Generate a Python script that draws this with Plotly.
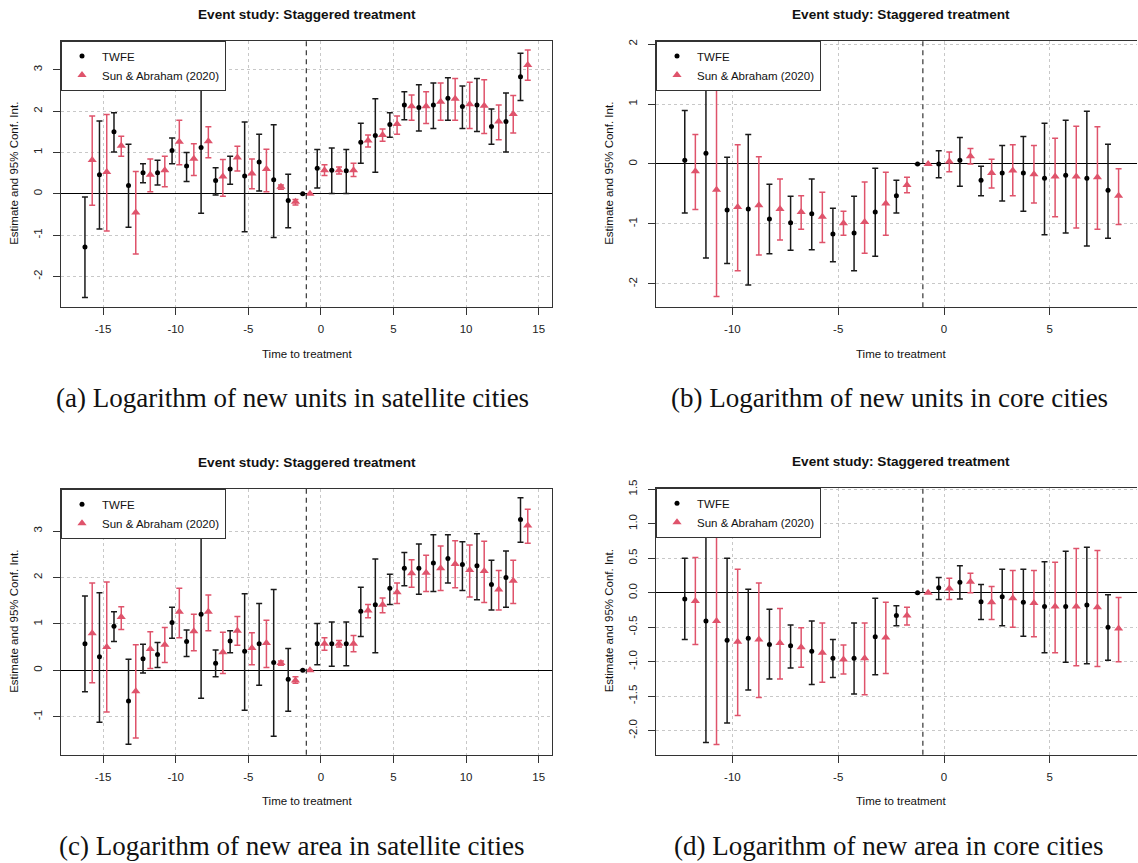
import plotly.graph_objects as go

# ---------------- data ----------------
t_sat = list(range(-16, 15))   # panels (a), (c)
t_core = list(range(-12, 9))   # panels (b), (d)

# (a) Logarithm of new units in satellite cities
a_twfe_est = [-1.29, 0.46, 1.50, 0.20, 0.51, 0.51, 1.05, 0.67, 1.12, 0.32, 0.60, 0.43, 0.77, 0.34, -0.16, 0.0,
              0.62, 0.57, 0.56, 1.25, 1.41, 1.68, 2.15, 2.09, 2.15, 2.31, 2.11, 2.15, 1.63, 1.75, 2.83]
a_twfe_lo = [-2.51, -0.85, 1.01, -0.81, 0.27, 0.21, 0.73, 0.30, -0.47, -0.03, 0.23, -0.92, 0.07, -1.06, -0.82, None,
             0.14, 0.01, 0.01, 0.74, 0.52, 1.37, 1.79, 1.52, 1.58, 1.78, 1.58, 1.51, 1.20, 1.01, 2.26]
a_twfe_hi = [-0.08, 1.76, 1.96, 1.20, 0.73, 0.81, 1.35, 1.00, 2.68, 0.63, 0.91, 1.74, 1.44, 1.67, 0.47, None,
             1.07, 1.11, 1.07, 1.71, 2.30, 1.96, 2.47, 2.64, 2.68, 2.81, 2.61, 2.79, 2.05, 2.44, 3.40]
a_sa_est = [0.82, 0.53, 1.16, -0.45, 0.46, 0.57, 1.26, 0.85, 1.27, 0.42, 0.88, 0.49, 0.60, 0.17, -0.19, 0.0,
            0.57, 0.57, 0.57, 1.29, 1.42, 1.69, 2.12, 2.12, 2.23, 2.30, 2.17, 2.13, 1.75, 1.93, 3.12]
a_sa_lo = [-0.28, -0.90, 0.91, -1.46, 0.05, 0.17, 0.70, 0.44, 0.87, -0.06, 0.55, 0.12, 0.05, 0.11, -0.27, None,
           0.44, 0.48, 0.42, 1.13, 1.27, 1.44, 1.78, 1.70, 1.78, 1.78, 1.58, 1.46, 1.31, 1.47, 2.75]
a_sa_hi = [1.88, 1.92, 1.39, 0.54, 0.84, 0.91, 1.78, 1.21, 1.62, 0.83, 1.15, 0.84, 1.08, 0.21, -0.14, None,
           0.70, 0.65, 0.74, 1.42, 1.57, 1.88, 2.39, 2.47, 2.68, 2.79, 2.70, 2.76, 2.15, 2.38, 3.48]

# (b) Logarithm of new units in core cities
b_twfe_est = [0.06, 0.18, -0.77, -0.75, -0.92, -0.98, -0.83, -1.17, -1.15, -0.80, -0.53, 0.0,
              0.00, 0.06, -0.27, -0.15, -0.15, -0.24, -0.19, -0.24, -0.44]
b_twfe_lo = [-0.82, -1.57, -1.66, -2.02, -1.50, -1.44, -1.43, -1.63, -1.78, -1.54, -0.82, None,
             -0.23, -0.37, -0.53, -0.62, -0.79, -1.18, -1.15, -1.37, -1.24]
b_twfe_hi = [0.89, 1.93, 0.11, 0.49, -0.34, -0.54, -0.25, -0.74, -0.54, -0.07, -0.27, None,
             0.22, 0.44, -0.04, 0.31, 0.46, 0.68, 0.73, 0.88, 0.33]
b_sa_est = [-0.12, -0.43, -0.72, -0.69, -0.75, -0.80, -0.88, -0.99, -0.97, -0.66, -0.35, 0.0,
            0.04, 0.13, -0.15, -0.11, -0.17, -0.21, -0.21, -0.22, -0.53]
b_sa_lo = [-0.76, -2.21, -1.78, -1.52, -1.27, -1.09, -1.31, -1.19, -1.49, -1.19, -0.48, None,
           -0.13, 0.00, -0.40, -0.53, -0.65, -0.88, -1.07, -1.09, -1.01]
b_sa_hi = [0.49, 1.36, 0.32, 0.12, -0.25, -0.53, -0.47, -0.79, -0.30, -0.14, -0.22, None,
           0.20, 0.26, 0.08, 0.32, 0.31, 0.43, 0.63, 0.62, -0.08]

# (c) Logarithm of new area in satellite cities
c_twfe_est = [0.57, 0.29, 0.95, -0.66, 0.25, 0.34, 1.03, 0.62, 1.21, 0.15, 0.63, 0.41, 0.57, 0.17, -0.19, 0.0,
              0.57, 0.57, 0.57, 1.27, 1.41, 1.77, 2.20, 2.20, 2.31, 2.41, 2.28, 2.25, 1.85, 2.00, 3.25]
c_twfe_lo = [-0.46, -1.12, 0.62, -1.59, -0.06, 0.06, 0.69, 0.30, -0.60, -0.14, 0.38, -0.86, -0.32, -1.42, -0.88, None,
             0.12, 0.09, 0.10, 0.73, 0.38, 1.42, 1.82, 1.64, 1.70, 1.88, 1.72, 1.52, 1.30, 1.36, 2.76]
c_twfe_hi = [1.60, 1.67, 1.26, 0.24, 0.56, 0.60, 1.36, 0.87, 2.99, 0.44, 0.85, 1.65, 1.44, 1.74, 0.47, None,
             1.01, 1.04, 1.04, 1.79, 2.40, 2.07, 2.54, 2.72, 2.92, 2.92, 2.77, 2.94, 2.37, 2.57, 3.72]
c_sa_est = [0.80, 0.50, 1.15, -0.45, 0.46, 0.55, 1.26, 0.84, 1.26, 0.39, 0.85, 0.48, 0.59, 0.16, -0.22, 0.0,
            0.57, 0.57, 0.57, 1.29, 1.41, 1.68, 2.09, 2.10, 2.20, 2.29, 2.16, 2.14, 1.74, 1.93, 3.12]
c_sa_lo = [-0.27, -0.90, 0.88, -1.46, 0.04, 0.17, 0.70, 0.42, 0.85, -0.07, 0.54, 0.12, 0.06, 0.11, -0.28, None,
           0.43, 0.50, 0.40, 1.13, 1.24, 1.44, 1.79, 1.70, 1.72, 1.78, 1.58, 1.46, 1.30, 1.44, 2.74]
c_sa_hi = [1.88, 1.90, 1.37, 0.55, 0.83, 0.92, 1.77, 1.21, 1.62, 0.82, 1.16, 0.81, 1.08, 0.20, -0.14, None,
           0.70, 0.64, 0.75, 1.42, 1.56, 1.88, 2.38, 2.48, 2.68, 2.79, 2.70, 2.78, 2.15, 2.37, 3.47]

# (d) Logarithm of new area in core cities
d_twfe_est = [-0.09, -0.41, -0.69, -0.66, -0.75, -0.77, -0.85, -0.95, -0.95, -0.64, -0.33, 0.0,
              0.07, 0.15, -0.13, -0.06, -0.14, -0.20, -0.20, -0.18, -0.50]
d_twfe_lo = [-0.68, -2.17, -1.89, -1.41, -1.25, -1.09, -1.33, -1.23, -1.47, -1.19, -0.48, None,
             -0.10, -0.09, -0.39, -0.48, -0.63, -0.87, -1.01, -1.03, -0.98]
d_twfe_hi = [0.50, 1.35, 0.50, 0.05, -0.24, -0.47, -0.41, -0.68, -0.44, -0.08, -0.19, None,
             0.22, 0.39, 0.12, 0.34, 0.34, 0.45, 0.60, 0.66, -0.03]
d_sa_est = [-0.12, -0.41, -0.71, -0.68, -0.73, -0.79, -0.87, -0.97, -0.95, -0.65, -0.33, 0.0,
            0.06, 0.16, -0.14, -0.08, -0.15, -0.20, -0.20, -0.21, -0.52]
d_sa_lo = [-0.75, -2.20, -1.78, -1.52, -1.25, -1.08, -1.30, -1.18, -1.48, -1.17, -0.47, None,
           -0.10, 0.00, -0.39, -0.50, -0.64, -0.87, -1.06, -1.07, -1.00]
d_sa_hi = [0.51, 1.38, 0.34, 0.14, -0.23, -0.51, -0.44, -0.76, -0.44, -0.14, -0.21, None,
           0.21, 0.28, 0.09, 0.32, 0.32, 0.44, 0.64, 0.61, -0.07]

x_ticks_sat = [-15, -10, -5, 0, 5, 10, 15]
x_ticks_core = [-10, -5, 0, 5]
y_ticks_a = [-2, -1, 0, 1, 2, 3]
y_ticks_b = [-2, -1, 0, 1, 2]
y_ticks_c = [-1, 0, 1, 2, 3]
y_ticks_d = [-2.0, -1.5, -1.0, -0.5, 0.0, 0.5, 1.0, 1.5]

series_names = ["TWFE", "Sun & Abraham (2020)"]
main_title = "Event study: Staggered treatment"
x_title = "Time to treatment"
y_title = "Estimate and 95% Conf. Int."
captions = ["(a) Logarithm of new units in satellite cities",
            "(b) Logarithm of new units in core cities",
            "(c) Logarithm of new area in satellite cities",
            "(d) Logarithm of new area in core cities"]

# ---------------- layout helpers ----------------
W, H = 1138, 863
V_OFF, V_SCALE = 7.5, 0.9907   # vertical calibration of the rendered page
SANS = "Liberation Sans, Arial, Helvetica, sans-serif"
SERIF = "Liberation Serif, Times New Roman, serif"
RED = "#DF536B"
DODGE = 0.25


def px_x(p):
    return p / W


def px_y(p):
    return 1 - ((p - V_OFF) / V_SCALE) / H


def nan(v):
    return float("nan") if v is None else v


panels = [
    dict(t=t_sat, tw=(a_twfe_est, a_twfe_lo, a_twfe_hi), sa=(a_sa_est, a_sa_lo, a_sa_hi),
         box=(61, 552, 40, 306.7), xr=[-17.9, 15.92], yr=[-2.745, 3.71],
         xt=x_ticks_sat, yt=y_ticks_a, yfmt="{:g}", right=True),
    dict(t=t_core, tw=(b_twfe_est, b_twfe_lo, b_twfe_hi), sa=(b_sa_est, b_sa_lo, b_sa_hi),
         box=(656, 1137, 40, 306.7), xr=[-13.61, 9.12], yr=[-2.39, 2.06],
         xt=x_ticks_core, yt=y_ticks_b, yfmt="{:g}", right=False),
    dict(t=t_sat, tw=(c_twfe_est, c_twfe_lo, c_twfe_hi), sa=(c_sa_est, c_sa_lo, c_sa_hi),
         box=(61, 552, 488.3, 754.3), xr=[-17.9, 15.92], yr=[-1.82, 3.91],
         xt=x_ticks_sat, yt=y_ticks_c, yfmt="{:g}", right=True),
    dict(t=t_core, tw=(d_twfe_est, d_twfe_lo, d_twfe_hi), sa=(d_sa_est, d_sa_lo, d_sa_hi),
         box=(656, 1137, 487.3, 754.3), xr=[-13.61, 9.12], yr=[-2.35, 1.52],
         xt=x_ticks_core, yt=y_ticks_d, yfmt="{:.1f}", right=False),
]

fig = go.Figure()
layout = dict(width=W, height=H, margin=dict(l=0, r=0, t=0, b=0),
              paper_bgcolor="white", plot_bgcolor="white", showlegend=True,
              font=dict(family=SANS, size=11.5, color="#222"))
annotations = []
shapes = []

for i, p in enumerate(panels):
    k = "" if i == 0 else str(i + 1)
    xa, ya = "x" + k, "y" + k
    lg = "legend" + k
    x0, x1, y0, y1 = p["box"]
    axis_common = dict(showline=True, linecolor="#333", linewidth=1,
                       ticks="outside", ticklen=7, tickwidth=1, tickcolor="#333",
                       showgrid=True, gridcolor="#c8c8c8", gridwidth=1, griddash="dot",
                       tickfont=dict(family=SANS, size=11.5, color="#222"))
    layout["xaxis" + k] = dict(axis_common, domain=[px_x(x0), px_x(x1)], range=p["xr"], anchor=ya,
                               tickmode="array", tickvals=p["xt"], ticktext=[f"{v:g}" for v in p["xt"]],
                               zeroline=False, mirror=True, ticklabelstandoff=4)
    layout["yaxis" + k] = dict(axis_common, domain=[px_y(y1), px_y(y0)], range=p["yr"], anchor=xa,
                               tickmode="array", tickvals=p["yt"],
                               ticktext=[p["yfmt"].format(v) for v in p["yt"]],
                               tickangle=-90, zeroline=True, zerolinecolor="black", zerolinewidth=1,
                               mirror=p["right"], ticklabelstandoff=6)
    layout[lg] = dict(x=px_x(x0), y=px_y(y0), xanchor="left", yanchor="top",
                      bgcolor="white", bordercolor="#333", borderwidth=1,
                      font=dict(family=SANS, size=11.5, color="#111"),
                      itemwidth=30, tracegroupgap=0)

    for j, (name, ser) in enumerate([(series_names[0], p["tw"]), (series_names[1], p["sa"])]):
        est, lo, hi = ser
        off = -DODGE if j == 0 else DODGE
        xs = [t + off for t in p["t"]]
        plus = [nan(h) - e if h is not None else float("nan") for e, h in zip(est, hi)]
        minus = [e - nan(l) if l is not None else float("nan") for e, l in zip(est, lo)]
        color = "black" if j == 0 else RED
        fig.add_trace(go.Scatter(
            x=xs, y=est, mode="markers", name=name, legend=lg, xaxis=xa, yaxis=ya,
            marker=dict(symbol="circle" if j == 0 else "triangle-up",
                        size=5 if j == 0 else 8, color=color, line=dict(width=0)),
            error_y=dict(type="data", symmetric=False, array=plus, arrayminus=minus,
                         color="#1a1a1a" if j == 0 else RED, thickness=1.5, width=3),
        ))

    # reference (dashed) line at t = -1
    shapes.append(dict(type="line", xref=xa, yref=ya + " domain", x0=-1, x1=-1, y0=0, y1=1,
                       line=dict(color="#444", width=1.3, dash="5px,4px"), layer="above"))

    cx = (x0 + x1) / 2
    if not p["right"]:
        cx = (x0 + x0 + 490) / 2
    annotations.append(dict(text=f"<b>{main_title}</b>", x=px_x(cx), y=px_y(y0 - 26),
                            xref="paper", yref="paper", showarrow=False, xanchor="center", yanchor="middle",
                            font=dict(family=SANS, size=13.6, color="#111")))
    annotations.append(dict(text=x_title, x=px_x(cx), y=px_y(y1 + 46.5),
                            xref="paper", yref="paper", showarrow=False, xanchor="center", yanchor="middle",
                            font=dict(family=SANS, size=11.5, color="#111")))
    annotations.append(dict(text=y_title, x=px_x(x0 - 47), y=px_y((y0 + y1) / 2),
                            xref="paper", yref="paper", showarrow=False, xanchor="center", yanchor="middle",
                            textangle=-90, font=dict(family=SANS, size=11.5, color="#111")))
    cap_cx = 292 if i % 2 == 0 else 889
    annotations.append(dict(text=captions[i], x=px_x(cap_cx), y=px_y(y1 + 91),
                            xref="paper", yref="paper", showarrow=False, xanchor="center", yanchor="middle",
                            font=dict(family=SERIF, size=27, color="#111")))

layout["annotations"] = annotations
layout["shapes"] = shapes
fig.update_layout(**layout)
fig.write_html("out.html")
